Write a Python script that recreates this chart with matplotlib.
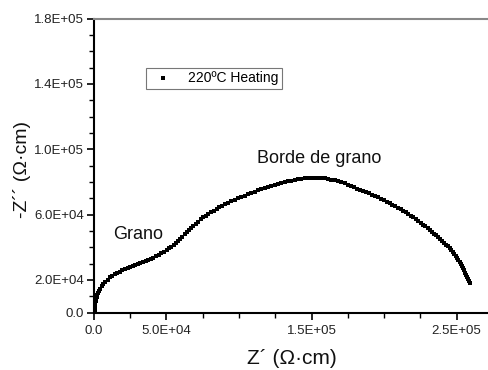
import matplotlib
matplotlib.use("Agg")
from matplotlib import pyplot as plt
from matplotlib.ticker import MultipleLocator, FixedLocator

plt.rcParams['font.family'] = ['Liberation Sans', 'DejaVu Sans']

# Nyquist data, 220 C heating run (k Ohm.cm)
zre_k = [0.3, 0.4, 0.5, 0.7, 0.9, 1.2, 1.5, 1.9, 2.4, 2.9, 3.5, 4.2,
         5.2, 6.5, 7.9, 9.4, 11.0, 12.6, 14.3, 16.0, 17.8, 19.6, 21.4, 23.2,
         25.0, 26.8, 28.6, 30.3, 32.0, 33.8, 35.6, 37.4, 39.2, 41.0, 42.8,
         44.6, 46.4, 48.3, 50.2,
         51.8, 53.4, 55.0, 56.5, 58.0, 59.5, 61.0, 62.5, 64.0, 65.5, 67.0,
         68.6, 70.2, 71.9, 73.6, 75.3, 77.0, 78.8, 80.7, 82.6, 84.5, 86.5,
         88.5, 90.5, 92.6, 94.7,
         97.0, 99.3, 101.6, 103.9, 106.2, 108.5, 110.8, 113.1, 115.4, 117.7,
         120.0, 122.3, 124.6, 126.9, 129.2, 131.5, 133.8, 136.1, 138.4,
         140.7, 143.0, 145.3, 147.6, 149.9,
         152.2, 154.5, 156.8, 159.1, 161.4, 163.7, 166.0, 168.3,
         170.6, 172.8, 175.0, 177.2, 179.3, 181.4, 183.5, 185.6, 187.7,
         189.8, 191.8, 193.8, 195.8, 197.8, 199.8, 201.8, 203.8, 205.7,
         207.6, 209.5, 211.4, 213.2, 215.0, 216.8, 218.5, 220.2, 221.9,
         223.6, 225.2, 226.8, 228.4, 230.0, 231.5, 233.0, 234.5, 236.0,
         237.4, 238.8, 240.2, 241.5, 242.8, 244.0, 245.2, 246.3, 247.4,
         248.4, 249.4, 250.3, 251.2, 252.1, 253.0, 253.8, 254.6, 255.4,
         256.1, 256.8, 257.5, 258.1, 258.7, 259.3]
zim_k = [0.5, 1.8, 3.0, 4.3, 5.5, 6.8, 8.0, 9.3, 10.6, 11.8, 13.0, 14.2,
         16.1, 17.3, 18.7, 20.1, 21.5, 22.4, 23.3, 24.1, 25.0, 25.8, 26.5,
         27.2, 27.8, 28.5, 29.2, 29.8, 30.4, 31.0, 31.6, 32.2, 32.8, 33.5,
         34.4, 35.4, 36.3, 37.2, 38.2,
         39.3, 40.4, 41.6, 42.7, 43.9, 45.2, 46.5, 47.9, 49.2, 50.5, 51.8,
         53.1, 54.4, 55.7, 57.0, 58.2, 59.3, 60.4, 61.4, 62.4, 63.4, 64.4,
         65.3, 66.2, 67.1, 68.0,
         69.0, 69.9, 70.8, 71.6, 72.4, 73.2, 74.0, 74.7, 75.4, 76.1,
         76.8, 77.4, 78.0, 78.6, 79.2, 79.8, 80.3, 80.8, 81.2,
         81.6, 81.9, 82.1, 82.3, 82.4,
         82.5, 82.4, 82.3, 82.1, 81.8, 81.4, 80.9, 80.4,
         79.7, 79.0, 78.3, 77.5, 76.7, 75.9, 75.1, 74.3, 73.6,
         72.9, 72.2, 71.4, 70.5, 69.6, 68.7, 67.8, 66.9, 66.0,
         65.1, 64.2, 63.2, 62.3, 61.4, 60.4, 59.3, 58.2, 57.1,
         56.0, 54.9, 53.8, 52.7, 51.6, 50.5, 49.4, 48.3, 47.2,
         46.2, 45.1, 43.9, 42.8, 41.6, 40.5, 39.4, 38.3, 37.2,
         35.9, 34.6, 33.3, 32.0, 30.8, 29.6, 28.4, 27.1, 25.8,
         24.4, 23.0, 21.7, 20.4, 19.2, 18.0]

zre = [v * 1000 for v in zre_k]
zim = [v * 1000 for v in zim_k]

x_ticks = [0, 5e4, 1.5e5, 2.5e5]
x_labels = ['0.0', '5.0E+04', '1.5E+05', '2.5E+05']
y_ticks = [0, 2e4, 6e4, 1e5, 1.4e5, 1.8e5]
y_labels = ['0.0', '2.0E+04', '6.0E+04', '1.0E+05', '1.4E+05', '1.8E+05']

fig = plt.figure(figsize=(4.88, 3.70), dpi=100)
ax = fig.add_axes([0.1926, 0.1554, 0.8074, 0.7946])

ax.plot(zre, zim, 's', color='black', ms=2.5, mew=0, label='220ºC Heating')

ax.set_xlim(0, 2.717e5)
ax.set_ylim(0, 1.8e5)

ax.xaxis.set_major_locator(FixedLocator(x_ticks))
ax.set_xticklabels(x_labels)
ax.xaxis.set_minor_locator(MultipleLocator(2.5e4))
ax.yaxis.set_major_locator(FixedLocator(y_ticks))
ax.set_yticklabels(y_labels)
ax.yaxis.set_minor_locator(MultipleLocator(1e4))

ax.tick_params(which='major', direction='out', length=5, width=1.2,
               labelsize=9.5, labelcolor='#222222', pad=2)
ax.tick_params(axis='x', which='major', pad=4)
ax.tick_params(which='minor', direction='out', length=3.5, width=1.0)

for s in ['left', 'bottom']:
    ax.spines[s].set_linewidth(1.5)
    ax.spines[s].set_color('black')
ax.spines['top'].set_color('#888888')
ax.spines['top'].set_linewidth(1.5)
ax.spines['right'].set_visible(False)

ax.set_xlabel('Z´ (Ω·cm)', fontsize=15, color='#111111', va='center')
ax.xaxis.set_label_coords(0.503, -0.155)
ax.set_ylabel('-Z´´ (Ω·cm)', fontsize=14, color='#111111', va='center')
ax.yaxis.set_label_coords(-0.183, 0.485)

ax.text(3.05e4, 4.8e4, 'Grano', fontsize=13, ha='center', va='center', color='#111111')
ax.text(1.55e5, 9.45e4, 'Borde de grano', fontsize=13, ha='center', va='center', color='#111111')

leg = ax.legend(loc='upper left', bbox_to_anchor=(0.132, 0.832), fontsize=10,
                frameon=True, fancybox=False, edgecolor='#555555',
                borderpad=0.25, handletextpad=0.8, markerscale=1.0,
                borderaxespad=0)
leg.get_frame().set_linewidth(0.8)

fig.savefig('out.png', dpi=100)
